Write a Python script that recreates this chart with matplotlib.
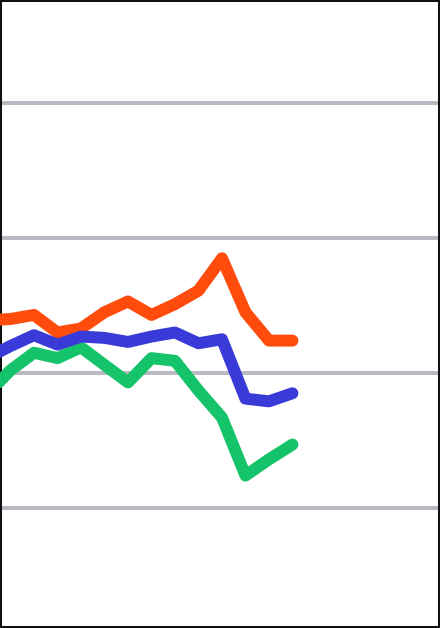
import numpy as np
import matplotlib
matplotlib.use("Agg")
import matplotlib.pyplot as plt

# -----------------------------------
# Data
# -----------------------------------
steps = list(range(14))

orange = [13.9, 14.0, 14.3, 13.0, 13.3, 14.5, 15.3, 14.3, 15.1, 16.1, 18.5, 14.5, 12.4, 12.4]
blue = [11.1, 12.0, 12.8, 12.1, 12.7, 12.6, 12.3, 12.7, 13.0, 12.2, 12.5, 8.1, 7.9, 8.5]
green = [8.4, 10.2, 11.5, 11.1, 11.9, 10.6, 9.3, 11.1, 10.9, 8.7, 6.7, 2.4, 3.6, 4.7]

grid_values = [0, 10, 20, 30]

# -----------------------------------
# Plot
# -----------------------------------
fig = plt.figure(figsize=(4.4, 6.28), dpi=100)
ax = fig.add_axes([0, 0, 1, 1])

for v in grid_values:
    ax.axhline(v, color="#b9b9c1", linewidth=2.9, zorder=1)

line_kw = dict(linewidth=8.6, solid_capstyle="round", solid_joinstyle="round", zorder=3)
ax.plot(steps, orange, color="#ff4c0c", **line_kw)
ax.plot(steps, green, color="#15c46a", **line_kw)
ax.plot(steps, blue, color="#3a3ad8", **line_kw)

ax.set_xlim(0.553, 19.28)
ax.set_ylim(-8.89, 37.63)
ax.set_xticks([])
ax.set_yticks([])

for s in ax.spines.values():
    s.set_color("#111111")
    s.set_linewidth(2.9)

fig.savefig("out.png", dpi=100)
plt.close(fig)
